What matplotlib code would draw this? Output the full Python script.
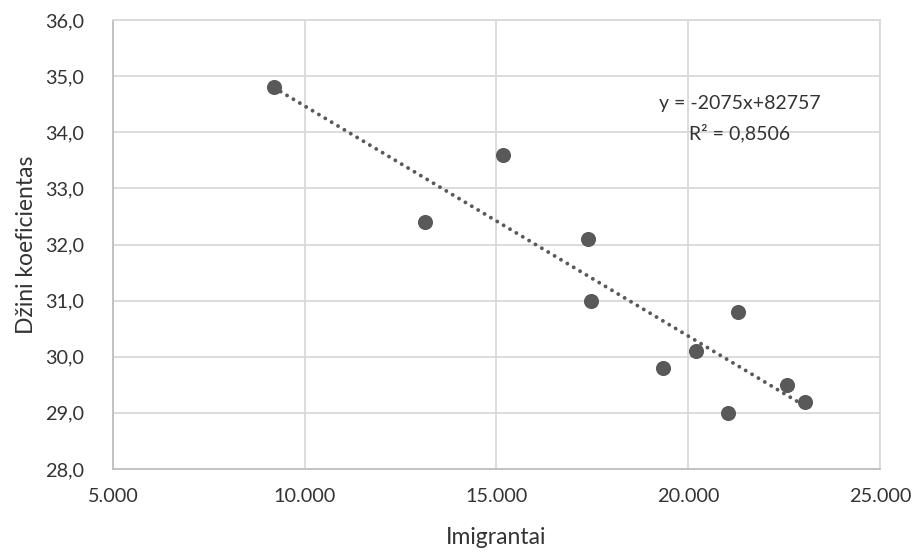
import numpy as np
import matplotlib
matplotlib.use("Agg")
import matplotlib.pyplot as plt
from matplotlib.ticker import FuncFormatter

# imigrantai (x) ir Džini koeficientas (y)
imigrantai = [9206, 13144, 15177, 17394, 17472, 19334, 20202, 21044, 21305, 22567, 23036]
dzini = [34.8, 32.4, 33.6, 32.1, 31.0, 29.8, 30.1, 29.0, 30.8, 29.5, 29.2]

x_ticks = [5000, 10000, 15000, 20000, 25000]
y_ticks = [28, 29, 30, 31, 32, 33, 34, 35, 36]
equation = "y = -2075x+82757"
r_squared = "R² = 0,8506"

plt.rcParams["font.family"] = ["Lato", "DejaVu Sans"]

grey = "#595959"
text_col = "#333333"

W, H = 920, 553
fig = plt.figure(figsize=(W / 100, H / 100), dpi=100)
ax = fig.add_axes([113 / W, 1 - 469 / H, 767 / W, 449 / H])

ax.scatter(imigrantai, dzini, s=118, color=grey, zorder=3, linewidths=0)

# linear trendline
x = np.array(imigrantai, dtype=float)
slope, intercept = np.polyfit(x, dzini, 1)
xs = np.array([x.min(), x.max()])
ax.plot(xs, slope * xs + intercept, color=grey, lw=2.8,
        linestyle=(0, (0.01, 1.9)), dash_capstyle="round", zorder=2)

ax.set_xlim(5000, 25000)
ax.set_ylim(28, 36)
ax.set_xticks(x_ticks)
ax.set_yticks(y_ticks)
ax.xaxis.set_major_formatter(FuncFormatter(lambda v, p: f"{int(v):,}".replace(",", ".")))
ax.yaxis.set_major_formatter(FuncFormatter(lambda v, p: f"{v:.1f}".replace(".", ",")))
ax.tick_params(axis="both", length=0, labelsize=14.3, labelcolor=text_col)
ax.tick_params(axis="y", pad=21)
ax.tick_params(axis="x", pad=14)

ax.grid(True, color="#d9d9d9", lw=1.3)
ax.set_axisbelow(True)
for side in ["top", "right"]:
    ax.spines[side].set_color("#d9d9d9")
    ax.spines[side].set_linewidth(1.3)
for side in ["left", "bottom"]:
    ax.spines[side].set_color("#bfbfbf")
    ax.spines[side].set_linewidth(1.3)

# axis titles
fig.text(496 / W, 1 - 538 / H, "Imigrantai", fontsize=16.5, color=text_col,
         ha="center", va="center")
fig.text(27 / W, 1 - 245 / H, "Džini koeficientas", fontsize=16.5, color=text_col,
         ha="center", va="center", rotation=90)

ax.text(0.8175, 1 - (103 - 20) / 449, equation, transform=ax.transAxes,
        ha="center", va="center", fontsize=14, color=text_col)
ax.text(0.8175, 1 - (133 - 20) / 449, r_squared, transform=ax.transAxes,
        ha="center", va="center", fontsize=14, color=text_col)

fig.savefig("out.png", dpi=100)
